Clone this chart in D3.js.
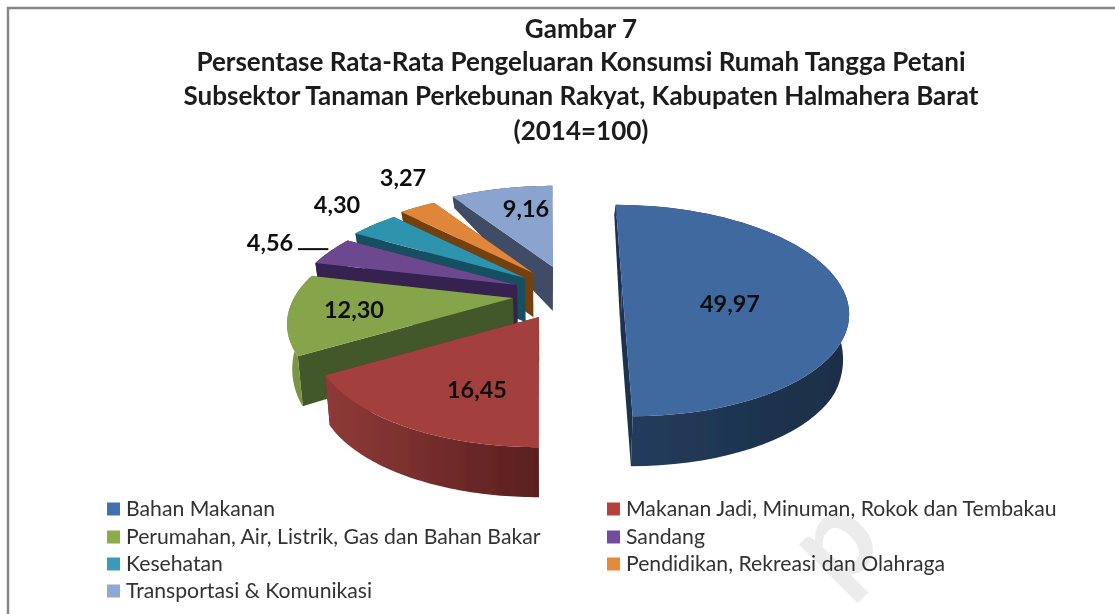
<!DOCTYPE html>
<html><head><meta charset="utf-8">
<script src="https://cdn.jsdelivr.net/npm/d3@7/dist/d3.min.js"></script>
<style>html,body{margin:0;padding:0;background:#fff}svg{display:block}</style>
</head><body><svg id="c" width="1115" height="614"></svg>
<script>
(function(){
// ---- data ----
const categories = ["Bahan Makanan","Makanan Jadi, Minuman, Rokok dan Tembakau","Perumahan, Air, Listrik, Gas dan Bahan Bakar","Sandang","Kesehatan","Pendidikan, Rekreasi dan Olahraga","Transportasi & Komunikasi"];
const values = [49.97,16.45,12.30,4.56,4.30,3.27,9.16];
const labels = ["49,97","16,45","12,30","4,56","4,30","3,27","9,16"];
const titleLines = ["Gambar 7","Persentase Rata-Rata Pengeluaran Konsumsi Rumah Tangga Petani","Subsektor Tanaman Perkebunan Rakyat, Kabupaten Halmahera Barat","(2014=100)"];
// ---- styles ----
const topColors  = ["#41699f","#a33f3d","#86a44a","#6c4a8f","#2f93ad","#e0863a","#8aa3cf"];
const cutColors  = ["#1c3350","#6b2524","#43592a","#35204f","#17505f","#74400f","#3f4c66"];
const arcLeft    = ["#223d5e","#8f3a38","#7f9c47","#35204f","#17505f","#74400f","#3f4c66"];
const arcRight   = ["#1c2e46","#5a1f1f","#6f8a3e","#35204f","#17505f","#74400f","#3f4c66"];
const legendColors = ["#3f6fb0","#b5403c","#8fab48","#6f4e9c","#3a9ab8","#e58a3c","#8fa8d6"];
// ---- layout ----
const pieCentre = [572,293];
const explodePx = [[50,-7],[-33,24],[-59,5],[-55,-8],[-47,-15],[-39,-20],[-19,-26]];
const labelOffset = [[108,18],[-62,73],[-159,12],[-247,-42],[-188,-73],[-130,-95],[-27,-58]];
const rx = 219, ry = 100, persp = 0.232, skew = 0.1, skewX = 545;
const bottomScale = 0.98, bottomX = 545, apexDepth = 44;

const svg = d3.select("#c");
const defs = svg.append("defs");
defs.append("filter").attr("id","soft").attr("x","-5%").attr("y","-5%").attr("width","110%").attr("height","110%")
  .append("feGaussianBlur").attr("stdDeviation",0.55);
const scX = d3.scaleLinear().domain([-1,1]).range([-rx,rx]);
const scY = d3.scaleLinear().domain([-1,1]).range([ry,-ry]);
const arcDepth = d3.scaleLinear().domain([-1,-0.5,0,0.85,1]).range([50,50,40,11,11]);
const slices = d3.pie().sort(null).startAngle(0).endAngle(2*Math.PI)(values);
const apex = i => [pieCentre[0]+explodePx[i][0], pieCentre[1]+explodePx[i][1]];

function upper(i,a,r){
  const [ax,ay]=apex(i), s=Math.sin(a)*r, c=Math.cos(a)*r, w=1+persp*c;
  const sh=(skewX-ax)*skew;
  return [ax+(scX(s)+sh*c)/w, ay+scY(c)/w];
}
function lower(i,a,r){
  const p=upper(i,a,r);
  const d=r*arcDepth(Math.cos(a))+(1-r)*apexDepth;
  return [bottomX+(p[0]-bottomX)*bottomScale, p[1]+d];
}
const line=d3.line();
const root=svg.append("g").attr("filter","url(#soft)");

// frame
root.append("path").attr("d",line([[8,614],[8,8],[1115,8]])).attr("fill","none").attr("stroke","#858585").attr("stroke-width",2.4);

// watermark
root.append("text").text("p").attr("transform","translate(838,594) rotate(-45)")
  .attr("font-family","Lato").attr("font-weight",700).attr("font-size",122).attr("fill","#ececec");

// title
root.append("g").selectAll("text").data(titleLines).join("text").text(d=>d)
  .attr("x",581).attr("y",(d,i)=>[38,71,105,140][i]).attr("text-anchor","middle")
  .attr("font-family","Lato").attr("font-weight",700).attr("font-size",26).attr("fill","#1a1a1a");

// slices, back to front
const order=[6,5,4,3,2,1,0];
order.forEach(i=>{
  const sl=slices[i], a0=sl.startAngle, a1=sl.endAngle;
  const g=root.append("g");
  const steps=d3.range(0,61).map(k=>a0+(a1-a0)*k/60);
  const gr=defs.append("linearGradient").attr("id","side"+i);
  gr.append("stop").attr("offset","0%").attr("stop-color",arcLeft[i]);
  gr.append("stop").attr("offset","100%").attr("stop-color",arcRight[i]);
  [a1,a0].forEach(a=>{
    g.append("path").attr("d",line([upper(i,a,0),upper(i,a,1),lower(i,a,1),lower(i,a,0)])+"Z").attr("fill",cutColors[i]);
  });
  g.append("path").attr("d",line(steps.map(a=>upper(i,a,1)).concat(steps.slice().reverse().map(a=>lower(i,a,1))))+"Z")
    .attr("fill",`url(#side${i})`);
  g.append("path").attr("d",line([upper(i,a0,0)].concat(steps.map(a=>upper(i,a,1))))+"Z").attr("fill",topColors[i]);
});

// value labels
labels.forEach((t,i)=>{
  const [ax,ay]=apex(i);
  root.append("text").text(t).attr("x",ax+labelOffset[i][0]).attr("y",ay+labelOffset[i][1]+8)
    .attr("text-anchor","middle").attr("font-family","Lato").attr("font-weight",700).attr("font-size",23.5).attr("fill","#111");
});
// leader line for Sandang
{
  const i=3, p=upper(i,(slices[i].startAngle+slices[i].endAngle)/2,1), [ax,ay]=apex(i);
  const lx=ax+labelOffset[i][0]+28;
  root.append("path").attr("d",line([[lx,p[1]-2],[p[0]-2,p[1]-2]])).attr("stroke","#111").attr("stroke-width",2).attr("fill","none");
}

// legend: filled row by row in two columns
const rowY=[509,537,564,591];
const legend=root.append("g").selectAll("g").data(categories).join("g")
  .attr("transform",(d,i)=>`translate(${i%2?607:107},${rowY[Math.floor(i/2)]})`);
legend.append("rect").attr("x",0).attr("y",-6.5).attr("width",13).attr("height",13).attr("fill",(d,i)=>legendColors[i]);
legend.append("text").text(d=>d).attr("x",19).attr("y",7)
  .attr("font-family","Lato").attr("font-size",21.2).attr("fill","#333");
})();
</script></body></html>
